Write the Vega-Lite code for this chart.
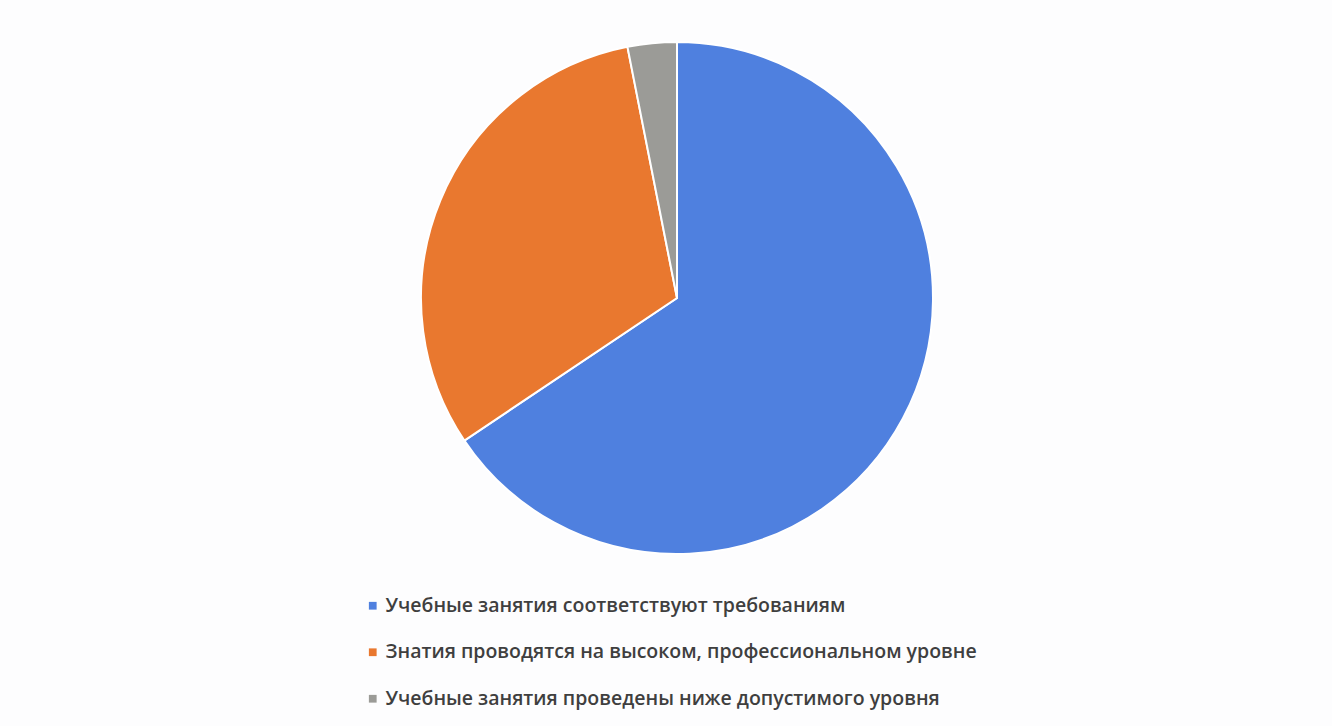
{
  "$schema": "https://vega.github.io/schema/vega-lite/v6.json",
  "width": 512,
  "height": 512,
  "autosize": {"type": "none"},
  "padding": {"left": 421, "top": 42, "right": 399, "bottom": 172},
  "background": "#fdfdfe",
  "config": {"view": {"stroke": null}},
  "data": {
    "values": [
      {"n": 1, "category": "Учебные занятия соответствуют требованиям", "value": 65.6},
      {"n": 2, "category": "Знатия проводятся на высоком, профессиональном уровне", "value": 31.3},
      {"n": 3, "category": "Учебные занятия проведены ниже допустимого уровня", "value": 3.1}
    ]
  },
  "mark": {"type": "arc", "outerRadius": 256, "stroke": "#ffffff", "strokeWidth": 2},
  "encoding": {
    "theta": {"field": "value", "type": "quantitative", "stack": true},
    "order": {"field": "n", "type": "quantitative"},
    "color": {
      "field": "category",
      "type": "nominal",
      "sort": null,
      "scale": {
        "domain": [
          "Учебные занятия соответствуют требованиям",
          "Знатия проводятся на высоком, профессиональном уровне",
          "Учебные занятия проведены ниже допустимого уровня"
        ],
        "range": ["#4f80df", "#e9782f", "#9b9b97"]
      },
      "legend": {
        "title": null,
        "orient": "none",
        "legendX": -58,
        "legendY": 554,
        "direction": "vertical",
        "symbolType": "square",
        "symbolSize": 60,
        "symbolStrokeWidth": 0,
        "labelFont": "Open Sans",
        "labelFontSize": 19.5,
        "labelFontWeight": 600,
        "labelColor": "#3f3f3f",
        "labelOffset": 3,
        "labelLimit": 900,
        "rowPadding": 25.5
      }
    }
  }
}
